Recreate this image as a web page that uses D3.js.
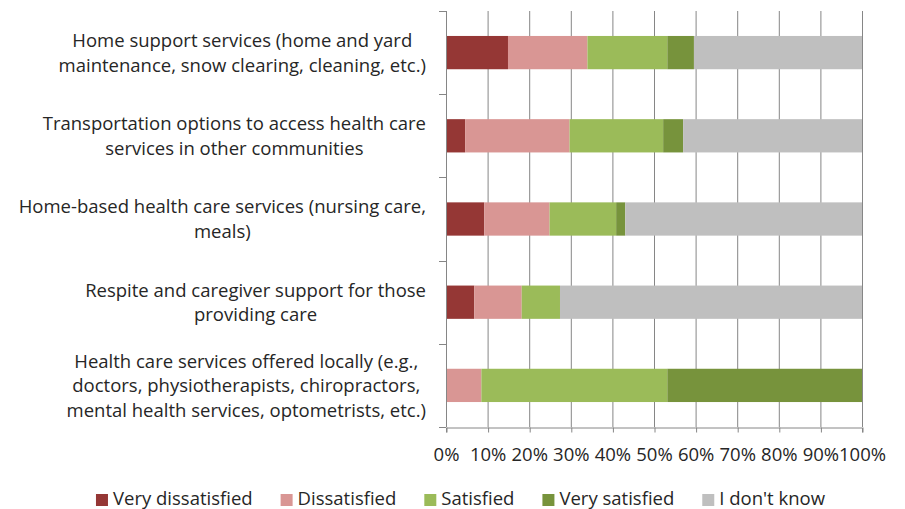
<!DOCTYPE html>
<html lang="en">
<head>
    <meta charset="UTF-8">
    <title>Satisfaction with services</title>
    <script src="https://d3js.org/d3.v7.min.js"></script>
    <style>
        body { margin: 0; background: #fff; }
        text { font-family: "Open Sans", sans-serif; fill: #262626; }
    </style>
</head>
<body>
    <div id="chart"></div>
    <script>
        // categories, top to bottom
        const categories = [
            ["Home support services (home and yard", "maintenance, snow clearing, cleaning, etc.)"],
            ["Transportation options to access health care", "services in other communities"],
            ["Home-based health care services (nursing care,", "meals)"],
            ["Respite and caregiver support for those", "providing care"],
            ["Health care services offered locally (e.g.,", "doctors, physiotherapists, chiropractors,", "mental health services, optometrists, etc.)"]
        ];
        const seriesNames = ["Very dissatisfied", "Dissatisfied", "Satisfied", "Very satisfied", "I don't know"];
        const veryDissatisfied = [14.9, 4.6, 9.2, 6.8, 0];
        const dissatisfied = [19.1, 25.1, 15.7, 11.4, 8.5];
        const satisfied = [19.2, 22.5, 16.0, 9.2, 44.7];
        const verySatisfied = [6.4, 4.8, 2.2, 0, 46.8];
        const dontKnow = [40.4, 43.0, 56.9, 72.6, 0];
        const tickValues = [0, 10, 20, 30, 40, 50, 60, 70, 80, 90, 100];
        const colors = ["#953735", "#d99694", "#9bbb59", "#77933c", "#bfbfbf"];

        const width = 905, height = 509;
        const margin = { top: 11, right: 43, bottom: 82, left: 446 };
        const fontSize = 18.5;

        const svg = d3.select("#chart").append("svg")
            .attr("width", width)
            .attr("height", height);

        const rows = categories.map((c, i) => ({
            idx: i,
            values: [veryDissatisfied[i], dissatisfied[i], satisfied[i], verySatisfied[i], dontKnow[i]]
        }));

        const x = d3.scaleLinear()
            .domain([0, 100])
            .range([margin.left, width - margin.right]);

        const y = d3.scaleBand()
            .domain(d3.range(categories.length))
            .range([margin.top, height - margin.bottom])
            .paddingInner(0.6)
            .paddingOuter(0.3);

        // vertical gridlines
        svg.append("g")
            .selectAll("line")
            .data(tickValues)
            .join("line")
            .attr("x1", d => x(d) + 0.5)
            .attr("x2", d => x(d) + 0.5)
            .attr("y1", margin.top)
            .attr("y2", height - margin.bottom)
            .attr("stroke", "#868686")
            .attr("stroke-width", 1);

        // stacked bars
        const stack = d3.stack()
            .keys(d3.range(seriesNames.length))
            .value((d, k) => d.values[k]);
        const layers = stack(rows);

        svg.append("g")
            .selectAll("g")
            .data(layers)
            .join("g")
            .attr("fill", (d, i) => colors[i])
            .selectAll("rect")
            .data(d => d)
            .join("rect")
            .attr("x", d => x(d[0]))
            .attr("y", d => y(d.data.idx))
            .attr("width", d => x(d[1]) - x(d[0]))
            .attr("height", y.bandwidth());

        // bottom axis
        const xAxis = svg.append("g")
            .attr("transform", `translate(0, ${height - margin.bottom + 0.5})`)
            .call(d3.axisBottom(x).tickValues(tickValues).tickFormat(d => d + "%").tickSize(5).tickPadding(15));
        xAxis.select(".domain").attr("stroke", "#868686");
        xAxis.selectAll(".tick line").attr("stroke", "#868686").attr("transform", "translate(0.5,0)");
        xAxis.selectAll("text")
            .style("font-family", "Open Sans, sans-serif")
            .style("font-size", fontSize + "px")
            .attr("fill", "#262626");

        // left axis line with ticks at band boundaries
        const leftAxis = svg.append("g");
        leftAxis.append("line")
            .attr("x1", margin.left + 0.5).attr("x2", margin.left + 0.5)
            .attr("y1", margin.top).attr("y2", height - margin.bottom)
            .attr("stroke", "#868686");
        const boundaries = d3.range(categories.length + 1)
            .map(i => margin.top + i * y.step());
        leftAxis.selectAll("line.tk")
            .data(boundaries)
            .join("line")
            .attr("class", "tk")
            .attr("x1", margin.left - 7).attr("x2", margin.left)
            .attr("y1", d => Math.round(d) + 0.5).attr("y2", d => Math.round(d) + 0.5)
            .attr("stroke", "#868686");

        // category labels, lines centred on one another, block right-aligned
        const lineH = 24.5;
        const labelRight = 426;
        categories.forEach((lines, i) => {
            const cy = y(i) + y.bandwidth() / 2;
            const t = svg.append("text")
                .attr("text-anchor", "middle")
                .attr("font-size", fontSize);
            lines.forEach((ln, j) => {
                t.append("tspan")
                    .attr("y", cy + (j - (lines.length - 1) / 2) * lineH + fontSize * 0.36)
                    .text(ln);
            });
            let maxW = 0;
            t.selectAll("tspan").each(function () {
                maxW = Math.max(maxW, this.getComputedTextLength());
            });
            t.selectAll("tspan").attr("x", labelRight - maxW / 2);
        });

        // legend
        const legend = svg.append("g");
        const items = legend.selectAll("g")
            .data(seriesNames)
            .join("g");
        items.append("rect")
            .attr("width", 12).attr("height", 12)
            .attr("y", -11)
            .attr("fill", (d, i) => colors[i]);
        items.append("text")
            .attr("x", 17)
            .attr("font-size", fontSize)
            .text(d => d);
        const gap = 28;
        let cx = 0;
        items.each(function () {
            const w = 17 + this.querySelector("text").getComputedTextLength();
            this.__x = cx;
            cx += w + gap;
        });
        const total = cx - gap;
        const startX = 460.5 - total / 2;
        items.attr("transform", function () { return `translate(${startX + this.__x}, 505)`; });
    </script>
</body>
</html>
